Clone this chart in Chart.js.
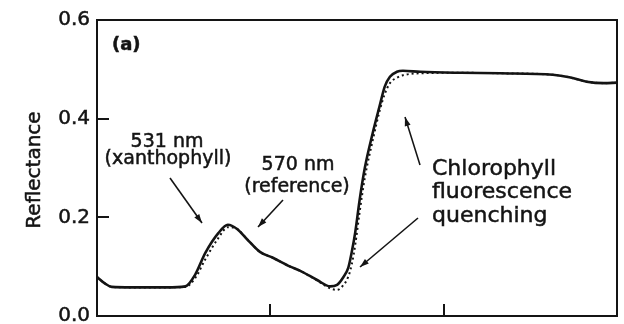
<!DOCTYPE html>
<html>
<head>
<meta charset="utf-8">
<script src="https://cdn.jsdelivr.net/npm/chart.js@4/dist/chart.umd.min.js"></script>
<style>
html,body{margin:0;padding:0;background:#fff;}
#wrap{width:624px;height:324px;position:relative;}
</style>
</head>
<body>
<div id="wrap"><canvas id="c" width="624" height="324"></canvas></div>
<script>
// wavelength (nm)
const wavelengths = [400,409,417,440,461,480,502,513,525,540,551,562,573,588,603,623,634,654,669,677,684,690,694,698,703,709,718,726,732,738,746,753,773,820,865,926,945,965,985,1000];
// solid curve
const reflectanceSolid = [0.079,0.066,0.059,0.058,0.058,0.058,0.060,0.083,0.128,0.168,0.185,0.176,0.156,0.130,0.118,0.100,0.092,0.073,0.060,0.063,0.078,0.098,0.130,0.170,0.235,0.300,0.370,0.425,0.465,0.485,0.495,0.497,0.495,0.493,0.492,0.489,0.484,0.475,0.472,0.473];
// dotted curve
const reflectanceDotted = [0.079,0.066,0.059,0.058,0.058,0.058,0.059,0.076,0.115,0.158,0.180,0.176,0.156,0.130,0.118,0.100,0.092,0.072,0.056,0.053,0.062,0.080,0.105,0.145,0.210,0.280,0.355,0.415,0.450,0.472,0.483,0.488,0.492,0.493,0.492,0.489,0.484,0.475,0.472,0.473];
const yTicks = [0.0,0.2,0.4,0.6];
const xTicks = [600,800];

const INK = '#141414';
const FONT = '"DejaVu Sans", sans-serif';

const annotations = {
  id: 'annotations',
  afterDraw(chart) {
    const ctx = chart.ctx;
    const a = chart.chartArea;
    const xs = chart.scales.x, ys = chart.scales.y;
    ctx.save();
    // frame
    ctx.strokeStyle = INK;
    ctx.lineWidth = 2;
    ctx.strokeRect(a.left, a.top, a.right - a.left, a.bottom - a.top);
    // inward ticks
    yTicks.forEach(v => {
      const py = Math.round(ys.getPixelForValue(v));
      ctx.beginPath(); ctx.moveTo(a.left, py); ctx.lineTo(a.left + 12, py); ctx.stroke();
    });
    xTicks.forEach(v => {
      const px = Math.round(xs.getPixelForValue(v));
      ctx.beginPath(); ctx.moveTo(px, a.bottom); ctx.lineTo(px, a.bottom - 12); ctx.stroke();
    });
    // texts
    ctx.fillStyle = INK;
    ctx.textBaseline = 'alphabetic';
    ctx.lineWidth = 0.5;
    const txt = (s, x, y) => { ctx.fillText(s, x, y); ctx.strokeText(s, x, y); };
    ctx.font = 'bold 18px ' + FONT;
    ctx.textAlign = 'left';
    txt('(a)', 112, 50);
    ctx.font = '19px ' + FONT;
    ctx.textAlign = 'center';
    txt('531 nm', 167, 147);
    txt('(xanthophyll)', 168, 164);
    txt('570 nm', 298, 170);
    txt('(reference)', 297, 192);
    ctx.font = '22px ' + FONT;
    ctx.textAlign = 'left';
    txt('Chlorophyll', 432, 175);
    txt('fluorescence', 432, 198);
    txt('quenching', 432, 222);
    // arrows
    const arrow = (x1, y1, x2, y2) => {
      ctx.lineWidth = 1.6;
      ctx.beginPath(); ctx.moveTo(x1, y1); ctx.lineTo(x2, y2); ctx.stroke();
      const ang = Math.atan2(y2 - y1, x2 - x1);
      const L = 9, W = 3;
      ctx.beginPath();
      ctx.moveTo(x2, y2);
      ctx.lineTo(x2 - L * Math.cos(ang) + W * Math.sin(ang), y2 - L * Math.sin(ang) - W * Math.cos(ang));
      ctx.lineTo(x2 - L * Math.cos(ang) - W * Math.sin(ang), y2 - L * Math.sin(ang) + W * Math.cos(ang));
      ctx.closePath(); ctx.fill();
    };
    arrow(170, 178, 202, 223);
    arrow(283, 200, 258, 227);
    arrow(420, 165, 405, 117);
    arrow(418, 218, 360, 267);
    // y title
    ctx.save();
    ctx.translate(35, 170);
    ctx.rotate(-Math.PI / 2);
    ctx.textAlign = 'center';
    ctx.textBaseline = 'middle';
    ctx.font = '20px ' + FONT;
    ctx.lineWidth = 0.5;
    ctx.fillText('Reflectance', 0, 0);
    ctx.strokeText('Reflectance', 0, 0);
    ctx.restore();
    ctx.restore();
  }
};

new Chart(document.getElementById('c'), {
  type: 'line',
  data: {
    datasets: [
      {
        label: 'solid',
        data: wavelengths.map((w, i) => ({x: w, y: reflectanceSolid[i]})),
        borderColor: INK, borderWidth: 2.6, pointRadius: 0,
        cubicInterpolationMode: 'monotone', fill: false
      },
      {
        label: 'dotted',
        data: wavelengths.map((w, i) => ({x: w, y: reflectanceDotted[i]})),
        borderColor: INK, borderWidth: 2, borderDash: [2, 3], pointRadius: 0,
        cubicInterpolationMode: 'monotone', fill: false
      }
    ]
  },
  options: {
    responsive: false,
    animation: false,
    devicePixelRatio: 1,
    layout: { autoPadding: false, padding: { left: 0, right: 7, top: 20, bottom: 8 } },
    plugins: { legend: { display: false }, tooltip: { enabled: false } },
    scales: {
      x: { type: 'linear', min: 400, max: 1000, display: false },
      y: {
        min: 0, max: 0.6,
        grid: { display: false, drawTicks: false },
        border: { display: false },
        ticks: {
          stepSize: 0.2, padding: 7, color: INK,
          textStrokeColor: INK, textStrokeWidth: 0.5,
          font: { family: '"DejaVu Sans", sans-serif', size: 20 },
          callback: v => Number(v).toFixed(1)
        },
        afterFit: s => { s.width = 97; s.paddingTop = 0; s.paddingBottom = 0; }
      }
    }
  },
  plugins: [annotations]
});
</script>
</body>
</html>
